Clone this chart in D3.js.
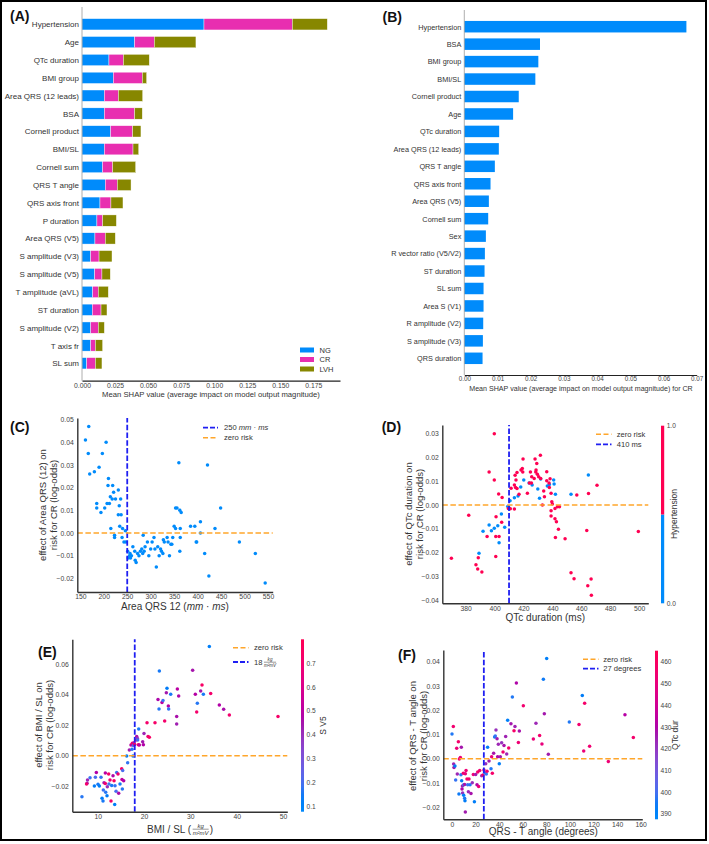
<!DOCTYPE html>
<html><head><meta charset="utf-8">
<script src="https://cdn.jsdelivr.net/npm/d3@7"></script>
<style>
body{margin:0;background:#fff;}
svg{display:block;font-family:'Liberation Sans',Arial,Helvetica,sans-serif;}
</style></head><body>
<svg id="c" width="709" height="844"></svg>
<script>
// ---------------- DATA ----------------
const catsA = ["Hypertension","Age","QTc duration","BMI group","Area QRS (12 leads)","BSA","Cornell product","BMI/SL","Cornell sum","QRS T angle","QRS axis front","P duration","Area QRS (V5)","S amplitude (V3)","S amplitude (V5)","T amplitude (aVL)","ST duration","S amplitude (V2)","T axis fr","SL sum"];
const classNames = ["NG","CR","LVH"];
const ngA  = [0.0923,0.0398,0.0204,0.0237,0.0169,0.0169,0.0217,0.0169,0.0156,0.0176,0.0136,0.0113,0.0098,0.0066,0.0096,0.0081,0.0078,0.0066,0.0066,0.0036];
const crA  = [0.0668,0.0149,0.0109,0.0219,0.0106,0.0229,0.0166,0.0217,0.0076,0.0091,0.0083,0.0043,0.0078,0.0063,0.0055,0.0042,0.0066,0.0057,0.0035,0.0065];
const lvhA = [0.0265,0.0315,0.0196,0.0033,0.0184,0.0058,0.0063,0.0043,0.0174,0.0104,0.0091,0.0104,0.0076,0.0098,0.0063,0.0076,0.0045,0.0046,0.0055,0.0050];
const ticksA = [0,0.025,0.05,0.075,0.1,0.125,0.15,0.175];

const catsB = ["Hypertension","BSA","BMI group","BMI/SL","Cornell product","Age","QTc duration","Area QRS (12 leads)","QRS T angle","QRS axis front","Area QRS (V5)","Cornell sum","Sex","R vector ratio (V5/V2)","ST duration","SL sum","Area S (V1)","R amplitude (V2)","S amplitude (V3)","QRS duration"];
const valsB = [0.0669,0.0228,0.0223,0.0214,0.0164,0.0147,0.0105,0.0104,0.0092,0.0079,0.0074,0.0072,0.0065,0.0062,0.0061,0.0058,0.0058,0.0057,0.0056,0.0055];
const ticksB = [0,0.01,0.02,0.03,0.04,0.05,0.06,0.07];

// (C) Area QRS 12 vs SHAP
const cArea = [161,168,167,170,180,190,205,197,185,185,194,202,207,210,209,219,214,218,221,225,212,231,236,233,231,237,215,223,223,234,240,246,239,243,247,251,255,257,259,252,256,262,266,267,269,272,275,278,281,283,286,288,284,293,296,300,303,307,309,312,315,318,321,323,326,327,329,335,337,340,343,345,347,350,353,353,356,360,362,365,362,363,363,385,394,397,398,406,406,415,421,424,437,449,489,523,544];
const cShap = [0.041,0.047,0.035,0.026,0.027,0.029,0.040,0.035,0.013,0.011,0.009,0.011,0.013,0.024,0.021,0.021,0.016,0.015,0.018,0.015,0.013,0.019,0.015,0.012,0.008,0.008,0.002,-0.001,-0.002,0.003,0.002,0.001,-0.002,-0.004,-0.004,-0.008,-0.010,-0.011,-0.010,-0.011,-0.009,-0.006,-0.008,-0.012,-0.013,-0.009,-0.010,-0.008,-0.007,-0.009,-0.008,-0.006,-0.001,-0.004,-0.010,-0.007,-0.004,-0.002,-0.007,-0.015,-0.006,-0.010,-0.007,-0.008,-0.009,-0.003,-0.004,-0.002,-0.004,-0.010,-0.005,-0.005,-0.002,0.003,0.002,0.011,0.011,0.031,0.010,0.009,-0.008,-0.002,0.002,0.003,0.003,-0.004,-0.004,0.005,0.000,-0.009,0.030,-0.019,0.002,0.011,-0.004,-0.009,-0.022];
const cXTicks = [150,200,250,300,350,400,450,500,550];
const cYTicks = [-0.02,-0.01,0,0.01,0.02,0.03,0.04,0.05];

// (D) QTc duration vs SHAP, split by hypertension
const dQtcHyp = [399.8,370.1,382.1,396.2,399.8,401.0,400.8,403.1,394.8,400.8,402.8,405.2,404.9,387.1,388.3,388.7,391.2,409.5,410.9,411.4,413.7,414.2,414.8,415.5,414.5,415.5,413.7,416.9,418.3,419.2,419.5,419.7,422.7,424.1,424.8,425.7,425.5,427.4,428.0,428.7,428.5,429.2,429.6,430.5,431.7,431.9,434.0,434.5,433.1,436.1,436.1,437.7,437.9,438.4,439.1,439.1,439.1,439.6,440.0,441.8,441.8,442.8,442.1,443.5,444.2,444.9,448.8,456.9,452.9,455.0,463.8,464.5,465.0,466.8,467.0,470.9,499.5];
const dShapHyp = [0.030,-0.0224,-0.0043,0.0139,0.0105,-0.0049,-0.0133,-0.0133,-0.0133,-0.0217,0.0046,0.0032,-0.0073,-0.0251,-0.0269,-0.0222,-0.0282,-0.0015,-0.0016,0.007,0.0084,0.0125,0.0105,0.0137,0.0074,0.0069,-0.0017,0.0045,0.0147,0.0154,0.0139,0.0194,0.0049,0.0093,0.0139,0.0119,0.0093,0.0111,0.0194,0.0147,0.0139,0.0175,0.0129,0.0119,0.0209,0.0112,0.0059,0.0035,0.0000,0.0140,0.0102,0.0093,0.0074,0.0110,0.0049,-0.0024,-0.0046,0.0014,0.0004,-0.0015,-0.0058,-0.0070,-0.0137,-0.0007,-0.0102,-0.0007,-0.0142,0.0042,-0.0285,-0.0310,-0.0107,-0.0340,0.0048,-0.0311,-0.0380,0.0083,-0.0112];
const dQtcNo = [389.2,392.0,396.2,397.8,399.8,402.2,404.7,403.1,407.0,409.1,409.8,410.7,413.7,416.2,418.1,420.2,423.9,426.0,429.9,431.1,431.9,436.5,437.9,440.9,441.2,442.1,452.9,464.9];
const dShapNo = [-0.0203,-0.0110,-0.0084,-0.0108,-0.0098,-0.0087,-0.0038,-0.0159,-0.0094,-0.0006,-0.0011,0.0018,0.0031,0.0038,0.0076,0.0105,0.0093,0.0084,0.0067,0.0028,0.0109,0.0080,0.0086,0.0105,0.0088,0.0045,0.0045,0.0126];
const dXTicks = [380,400,420,440,460,480,500];
const dYTicks = [-0.04,-0.03,-0.02,-0.01,0,0.01,0.02,0.03];

// (E) BMI/SL vs SHAP, coloured by S V5
const eBmiSl = [6.6,7.7,7.8,7.6,8.35,9.28,9.5,9.71,10.07,10.36,10.72,10.94,11.15,11.22,11.37,11.65,11.73,11.65,12.01,12.08,12.37,12.44,12.66,12.88,13.02,13.31,13.53,13.67,13.74,13.96,14.1,14.39,14.53,14.82,15.18,15.25,15.32,15.4,15.61,16.26,16.47,16.83,17.19,17.41,17.48,17.63,17.7,17.84,17.99,18.27,18.42,18.56,18.63,18.78,18.85,18.99,19.71,19.86,20.0,20.65,20.86,21.15,22.37,23.02,23.31,23.24,23.88,24.1,24.46,24.82,24.96,25.25,25.32,25.76,27.05,27.05,27.2,27.48,30.5,31.08,31.37,31.51,32.23,32.52,32.81,34.1,34.39,36.26,37.19,38.42,48.92];
const eShap = [-0.0269,-0.0181,-0.016,-0.0186,-0.0144,-0.0199,-0.0142,-0.0111,-0.0188,-0.0199,-0.0142,-0.028,-0.0297,-0.0225,-0.0177,-0.0114,-0.024,-0.0182,-0.0262,-0.0203,-0.012,-0.0186,-0.016,-0.0297,-0.0195,-0.0131,-0.0164,-0.0321,-0.0197,-0.0234,-0.0111,-0.012,-0.0247,-0.0186,-0.0085,-0.0157,-0.0219,-0.0098,-0.0164,-0.0002,-0.0046,0.0037,0.007,0.0042,0.0081,-0.0002,0.0066,0.0085,0.0074,0.0103,0.0125,0.0114,0.0103,0.0072,0.0175,0.007,0.0092,0.0072,0.0146,0.0216,0.0125,0.012,0.0216,0.0369,0.0555,0.0306,0.0348,0.0361,0.0227,0.0413,0.0442,0.0326,0.0306,0.0402,0.0256,0.0208,0.0437,0.0391,0.056,0.0402,0.0286,0.0343,0.0424,0.0463,0.0402,0.0715,0.0407,0.0332,0.0304,0.0267,0.0256];
const eSv5 = [0.16,0.45,0.42,0.72,0.18,0.14,0.2,0.48,0.15,0.12,0.17,0.13,0.15,0.18,0.44,0.5,0.16,0.7,0.14,0.4,0.73,0.19,0.7,0.72,0.15,0.47,0.75,0.13,0.17,0.2,0.18,0.71,0.46,0.15,0.74,0.52,0.16,0.2,0.48,0.14,0.17,0.43,0.5,0.16,0.72,0.14,0.2,0.45,0.7,0.73,0.46,0.4,0.18,0.71,0.15,0.5,0.44,0.48,0.42,0.72,0.7,0.74,0.73,0.47,0.15,0.16,0.5,0.18,0.72,0.44,0.14,0.48,0.17,0.15,0.46,0.43,0.5,0.47,0.45,0.49,0.72,0.16,0.44,0.74,0.15,0.12,0.72,0.48,0.46,0.71,0.73];
const eXTicks = [10,20,30,40,50];
const eYTicks = [-0.02,0,0.02,0.04,0.06];
const eCbTicks = [0.1,0.2,0.3,0.4,0.5,0.6,0.7];

// (F) QRS-T angle vs SHAP, coloured by QTc duration
const fAngle = [0,1.1,1.4,1.7,2.5,3.1,4,4.5,5.4,5.9,6.2,7.1,7.6,7.9,8.2,8.5,8.8,9,9.6,9.9,9.9,10.7,10.7,11,11.3,11.3,11.9,12.7,13.3,13.9,14.4,15.3,16.1,17.2,18.1,19,20.1,21.2,21.8,22.6,23.5,25.2,26.3,27.1,27.7,28.6,29.1,29.7,30.2,31.4,33.1,33.6,34.2,35.3,36.2,36.7,37.3,38.2,38.7,39.3,40.1,41,42.1,43.3,44.1,45.5,46.4,47.2,48.1,50,51.2,52.6,53.4,54.6,56.3,57.1,60.5,69,71.2,74.3,76.3,77.5,78.3,80.3,81.7,99.5,107.7,110.5,111.7,112.5,116.7,132.6,146.7,153.8];
const fShap = [0.0102,0.0133,-0.0022,-0.0036,-0.003,-0.0088,0.0043,-0.0063,0.007,-0.0146,-0.0001,0.0005,-0.0066,0.0047,-0.0091,-0.0125,-0.0113,-0.0141,-0.006,-0.0151,-0.0107,-0.0106,-0.0163,-0.0173,-0.0062,-0.022,-0.0049,-0.0084,-0.0107,-0.0136,-0.0084,-0.0107,-0.0144,-0.0099,-0.0065,-0.0177,-0.0065,-0.0107,-0.0055,-0.0115,-0.0049,-0.007,-0.0067,-0.0047,-0.0058,-0.0021,-0.0063,-0.0052,0.0047,-0.001,-0.0041,0.0008,-0.006,0.0022,0.0089,0.0093,0.0118,0.0082,0.0008,0.0059,-0.0021,0.0008,0.0066,0.0027,0.0054,0.0091,0.0019,0.0158,0.0044,0.0144,0.0254,0.0115,0.0133,0.0312,0.0067,0.0114,0.0218,0.0081,0.0146,0.0096,0.006,0.0327,0.0185,0.0413,0.0018,0.0151,0.0141,0.026,0.0032,0.0228,0.0051,-0.0012,0.0181,0.0087];
const fQtc = [396,455,425,428,393,398,452,424,456,395,458,452,397,427,394,430,425,422,455,392,398,428,396,394,450,426,453,457,399,424,455,396,428,422,452,393,426,430,456,451,454,424,458,453,397,422,398,455,394,426,396,452,457,428,395,398,422,426,430,424,393,427,421,454,428,425,424,392,456,427,396,458,425,430,453,428,455,452,424,456,450,395,427,392,426,396,455,394,452,457,454,453,432,456];
const fXTicks = [0,20,40,60,80,100,120,140,160];
const fYTicks = [-0.02,-0.01,0,0.01,0.02,0.03,0.04];
const fCbTicks = [390,400,410,420,430,440,450,460];

// ---------------- STYLE ----------------
const FONT = "'Liberation Sans', Arial, Helvetica, sans-serif";
const classColors = ["#008bfb","#e82eb0","#878700"];
const SHAP_BLUE = "#008bfb", SHAP_RED = "#ff0052";
const ORANGE = "#ffa62b", VBLUE = "#1f1ff2";
// shap red_blue colormap (LCh interpolation with darker middle)
function redBlue(t){
  t = Math.max(0, Math.min(1, t));
  const h = 266.9 + t * (380.3 - 266.9);
  const c = 70 + 20 * t;
  const l = t < 0.5 ? 54 + (40 - 54) * (t / 0.5) : 40 + (54 - 40) * ((t - 0.5) / 0.5);
  return d3.hcl(h % 360, c, l).formatHex();
}

const svg = d3.select("#c");
svg.append("rect").attr("x",1).attr("y",1).attr("width",705).attr("height",839)
  .attr("fill","#fff").attr("stroke","#000").attr("stroke-width",2);
const defs = svg.append("defs");

function styleAxis(sel, size, color){
  sel.attr("font-family", FONT).attr("font-size", size);
  sel.selectAll("text").attr("fill", color || "#444");
}
function panelLabel(x, y, s){
  svg.append("text").attr("x",x).attr("y",y).attr("dy","0.35em")
    .attr("font-size",14).attr("font-weight","bold").attr("fill","#111").text(s);
}
function yTitle(cx, cy, lines, size){
  const t = svg.append("text").attr("transform",`translate(${cx},${cy}) rotate(-90)`)
    .attr("text-anchor","middle").attr("font-size",size).attr("fill","#333");
  const lh = size * 1.12;
  lines.forEach((l,i)=>t.append("tspan").attr("x",0).attr("y",(i-(lines.length-1)/2)*lh).attr("dy","0.35em").text(l));
  return t;
}
function fracText(parent, x, y, anchor, pre, num, den, post, size){
  const g = parent.append("g").attr("fill","#333");
  const t1 = g.append("text").attr("x",0).attr("y",0).attr("dy","0.35em").attr("font-size",size).text(pre);
  const w = t1.node().getComputedTextLength();
  const fs = size*0.6;
  const nT = g.append("text").attr("font-size",fs).attr("font-style","italic").attr("text-anchor","middle").text(num);
  const dT = g.append("text").attr("font-size",fs).attr("font-style","italic").attr("text-anchor","middle").text(den);
  const fw = Math.max(nT.node().getComputedTextLength(), dT.node().getComputedTextLength());
  const fx = w + 1.5 + fw/2;
  nT.attr("x",fx).attr("y",-1.2);
  dT.attr("x",fx).attr("y",1.2 + fs*0.78);
  g.append("line").attr("x1",fx-fw/2).attr("x2",fx+fw/2).attr("y1",0.2).attr("y2",0.2).attr("stroke","#333").attr("stroke-width",0.5);
  let total = fx + fw/2 + 1;
  if (post){
    const t2 = g.append("text").attr("x",total).attr("y",0).attr("dy","0.35em").attr("font-size",size).text(post);
    total += t2.node().getComputedTextLength();
  }
  const ox = anchor === "middle" ? x - total/2 : x;
  g.attr("transform",`translate(${ox},${y})`);
  return g;
}
function legendLine(x1, x2, y, color, dash, width){
  svg.append("line").attr("x1",x1).attr("x2",x2).attr("y1",y).attr("y2",y)
    .attr("stroke",color).attr("stroke-width",width).attr("stroke-dasharray",dash);
}
function legendText(x, y, s){
  return svg.append("text").attr("x",x).attr("y",y).attr("dy","0.35em").attr("font-size",7.6).attr("fill","#333").text(s);
}

// ---------------- PANEL A ----------------
(function(){
  const g = svg.append("g");
  const x = d3.scaleLinear().domain([0,0.1952]).range([82,340]);
  const y = d3.scalePoint().domain(catsA).range([24.3,363.3]);
  const rows = catsA.map((c,i)=>({cat:c, NG:ngA[i], CR:crA[i], LVH:lvhA[i]}));
  const series = d3.stack().keys(classNames)(rows);
  const bh = 11.3;
  g.selectAll("g.s").data(series).join("g").attr("class","s").attr("fill",(d,i)=>classColors[i])
    .selectAll("rect").data(d=>d).join("rect")
    .attr("x",d=>x(d[0])).attr("width",d=>x(d[1])-x(d[0]))
    .attr("y",d=>y(d.data.cat)-bh/2).attr("height",bh)
    .attr("stroke","#fff").attr("stroke-width",0.4);
  g.append("line").attr("x1",82).attr("x2",82).attr("y1",7).attr("y2",380.7).attr("stroke","#9a9a9a").attr("stroke-width",0.8);
  const ya = g.append("g").attr("transform","translate(82,0)").call(d3.axisLeft(y).tickSize(0).tickPadding(3));
  ya.select(".domain").remove();
  styleAxis(ya, 8, "#333");
  const xa = g.append("g").attr("transform","translate(0,380.7)")
    .call(d3.axisBottom(x).tickValues(ticksA).tickFormat(d3.format(".3f")).tickSize(0).tickPadding(2).tickSizeOuter(0));
  xa.select(".domain").attr("stroke","#222").attr("stroke-width",1.2);
  styleAxis(xa, 6.8, "#444");
  g.append("text").attr("x",211).attr("y",394).attr("dy","0.35em").attr("text-anchor","middle")
    .attr("font-size",7.7).attr("fill","#333").text("Mean SHAP value (average impact on model output magnitude)");
  // legend
  const ly = d3.scalePoint().domain(classNames).range([350,369]);
  classNames.forEach((c,i)=>{
    g.append("rect").attr("x",300).attr("y",ly(c)-2.5).attr("width",14).attr("height",5).attr("fill",classColors[i]);
    g.append("text").attr("x",319.5).attr("y",ly(c)).attr("dy","0.35em").attr("font-size",7.5).attr("fill","#333").text(c);
  });
  panelLabel(10,16,"(A)");
})();

// ---------------- PANEL B ----------------
(function(){
  const g = svg.append("g");
  const x = d3.scaleLinear().domain([0,0.07]).range([464.3,696.7]);
  const y = d3.scalePoint().domain(catsB).range([26.7,358.3]);
  const bh = 11.5;
  g.selectAll("rect").data(catsB).join("rect")
    .attr("x",x(0)).attr("width",(d,i)=>x(valsB[i])-x(0))
    .attr("y",d=>y(d)-bh/2).attr("height",bh).attr("fill",SHAP_BLUE);
  g.append("line").attr("x1",464.3).attr("x2",464.3).attr("y1",10).attr("y2",375).attr("stroke","#9a9a9a").attr("stroke-width",0.8);
  const ya = g.append("g").attr("transform","translate(464.3,0)").call(d3.axisLeft(y).tickSize(0).tickPadding(3));
  ya.select(".domain").remove();
  styleAxis(ya, 7.3, "#333");
  const xa = g.append("g").attr("transform","translate(0,375)")
    .call(d3.axisBottom(x).tickValues(ticksB).tickFormat(d3.format(".2f")).tickSize(0).tickPadding(2).tickSizeOuter(0));
  xa.select(".domain").attr("stroke","#222").attr("stroke-width",1.2);
  styleAxis(xa, 6.3, "#444");
  g.append("text").attr("x",581).attr("y",388.7).attr("dy","0.35em").attr("text-anchor","middle")
    .attr("font-size",7.1).attr("fill","#333").text("Mean SHAP value (average impact on model output magnitude) for CR");
  panelLabel(382.5,17,"(B)");
})();

// ---------------- SCATTER HELPER ----------------
function scatter(o){
  const g = svg.append("g");
  const x = d3.scaleLinear().domain(o.xDom).range(o.xRange);
  const y = d3.scaleLinear().domain(o.yDom).range(o.yRange);
  o.groups.forEach(gr=>{
    g.append("g").selectAll("circle").data(gr.xs).join("circle")
      .attr("cx",d=>x(d)).attr("cy",(d,i)=>y(gr.ys[i])).attr("r",1.75)
      .attr("fill",(d,i)=>gr.color(i));
  });
  // reference lines
  g.append("line").attr("x1",x(o.vline)).attr("x2",x(o.vline)).attr("y1",o.yRange[0]).attr("y2",o.yRange[1])
    .attr("stroke",VBLUE).attr("stroke-width",1.8).attr("stroke-dasharray","5.5,2.2");
  g.append("line").attr("x1",o.xRange[0]).attr("x2",o.xRange[1]).attr("y1",y(0)).attr("y2",y(0))
    .attr("stroke",ORANGE).attr("stroke-width",1.5).attr("stroke-dasharray","5.5,2.6");
  const xa = g.append("g").attr("transform",`translate(0,${o.yRange[0]})`)
    .call(d3.axisBottom(x).tickValues(o.xTicks).tickFormat(o.xFmt).tickSize(0).tickPadding(2.5).tickSizeOuter(0));
  xa.select(".domain").attr("stroke","#333").attr("stroke-width",1.4);
  styleAxis(xa, 6.8, "#444");
  const ya = g.append("g").attr("transform",`translate(${o.xRange[0]},0)`)
    .call(d3.axisLeft(y).tickValues(o.yTicks).tickFormat(o.yFmt).tickSize(0).tickPadding(3.5).tickSizeOuter(0));
  ya.select(".domain").attr("stroke","#333").attr("stroke-width",1.4);
  styleAxis(ya, 6.8, "#444");
  return {g,x,y};
}
function colorbar(id, x0, y0, y1, w, dom, ticks, fmt, colorFn, label, labelX){
  const grad = defs.append("linearGradient").attr("id",id).attr("x1",0).attr("x2",0).attr("y1",1).attr("y2",0);
  d3.range(0,1.0001,0.05).forEach(t=>grad.append("stop").attr("offset",t).attr("stop-color",colorFn(t)));
  svg.append("rect").attr("x",x0).attr("y",y0).attr("width",w).attr("height",y1-y0).attr("fill",`url(#${id})`);
  const s = d3.scaleLinear().domain(dom).range([y1,y0]);
  const a = svg.append("g").attr("transform",`translate(${x0+w},0)`)
    .call(d3.axisRight(s).tickValues(ticks).tickFormat(fmt).tickSize(0).tickPadding(2.5));
  a.select(".domain").remove();
  styleAxis(a, 6.6, "#444");
  yTitle(labelX, (y0+y1)/2, [label], 8.5);
}

// ---------------- PANEL C ----------------
(function(){
  scatter({
    xDom:[143.6,560], xRange:[77.3,272.7], yDom:[-0.026,0.0507], yRange:[592,418],
    xTicks:cXTicks, xFmt:d3.format("d"), yTicks:cYTicks, yFmt:d3.format(".2f"), vline:250,
    groups:[{xs:cArea, ys:cShap, color:()=>SHAP_BLUE}]
  });
  yTitle(48,505,["effect of Area QRS (12) on","risk for CR (log-odds)"],9.5);
  const t = svg.append("text").attr("x",175).attr("y",606.7).attr("dy","0.35em").attr("text-anchor","middle")
    .attr("font-size",10).attr("fill","#333");
  t.append("tspan").text("Area QRS 12 (");
  t.append("tspan").attr("font-style","italic").text("mm");
  t.append("tspan").text(" · ");
  t.append("tspan").attr("font-style","italic").text("ms");
  t.append("tspan").text(")");
  legendLine(203,218,427.7,VBLUE,"5,2",1.8);
  const l1 = legendText(224,427.7,"250 ");
  l1.append("tspan").attr("font-style","italic").text("mm");
  l1.append("tspan").text(" · ");
  l1.append("tspan").attr("font-style","italic").text("ms");
  legendLine(203,218,437.7,ORANGE,"5,2.5",1.5);
  legendText(224,437.7,"zero risk");
  panelLabel(10,426.7,"(C)");
})();

// ---------------- PANEL D ----------------
(function(){
  scatter({
    xDom:[363.8,506.4], xRange:[442.3,648.3], yDom:[-0.04136,0.03366], yRange:[603.3,425],
    xTicks:dXTicks, xFmt:d3.format("d"), yTicks:dYTicks, yFmt:d3.format(".2f"), vline:410,
    groups:[{xs:dQtcNo, ys:dShapNo, color:()=>SHAP_BLUE},{xs:dQtcHyp, ys:dShapHyp, color:()=>SHAP_RED}]
  });
  yTitle(414,514,["effect of QTc duration on","risk for CR (log-odds)"],9.5);
  svg.append("text").attr("x",545.3).attr("y",617).attr("dy","0.35em").attr("text-anchor","middle")
    .attr("font-size",10).attr("fill","#333").text("QTc duration (ms)");
  legendLine(596,611.5,434.3,ORANGE,"5,2.5",1.5);
  legendText(616.7,434.3,"zero risk");
  legendLine(596,611.5,444.3,VBLUE,"5,2",1.8);
  legendText(616.7,444.3,"410 ms");
  // binary colorbar
  const cb = d3.scaleLinear().domain([0,1]).range([603.3,425.7]);
  svg.append("rect").attr("x",661).attr("y",cb(0.5)).attr("width",3.2).attr("height",cb(0)-cb(0.5)).attr("fill",SHAP_BLUE);
  svg.append("rect").attr("x",661).attr("y",cb(1)).attr("width",3.2).attr("height",cb(0.5)-cb(1)).attr("fill",SHAP_RED);
  const a = svg.append("g").attr("transform","translate(664.2,0)")
    .call(d3.axisRight(cb).tickValues([0,1]).tickFormat(d3.format(".1f")).tickSize(0).tickPadding(2.5));
  a.select(".domain").remove();
  styleAxis(a, 6.6, "#444");
  yTitle(674.5,514,["Hypertension"],8.5);
  panelLabel(381.7,426.7,"(D)");
})();

// ---------------- PANEL E ----------------
(function(){
  const cDom = [0.076,0.80];
  const cs = v => redBlue((v-cDom[0])/(cDom[1]-cDom[0]));
  scatter({
    xDom:[4.52,50.93], xRange:[72.3,287.3], yDom:[-0.03674,0.0763], yRange:[811.7,639.3],
    xTicks:eXTicks, xFmt:d3.format("d"), yTicks:eYTicks, yFmt:d3.format(".2f"), vline:18,
    groups:[{xs:eBmiSl, ys:eShap, color:i=>cs(eSv5[i])}]
  });
  yTitle(44,725,["effect of BMI / SL on","risk for CR (log-odds)"],9.5);
  fracText(svg,180,829,"middle","BMI / SL (","kg","m²mV",")",10);
  legendLine(233,248.5,647.8,ORANGE,"5,2.5",1.5);
  legendText(254,647.8,"zero risk");
  legendLine(233,248.5,662,VBLUE,"5,2",1.8);
  fracText(svg,254,662,"start","18 ","kg","m²mV","",7.6);
  colorbar("cbE",301,639.3,811.7,3,cDom,eCbTicks,d3.format(".1f"),redBlue,"S V5",323.5);
  panelLabel(38,651.7,"(E)");
})();

// ---------------- PANEL F ----------------
(function(){
  const cDom = [387.5,465.1];
  const cs = v => redBlue((v-cDom[0])/(cDom[1]-cDom[0]));
  scatter({
    xDom:[-7.38,161.4], xRange:[443.3,642.3], yDom:[-0.02498,0.04478], yRange:[819.3,650],
    xTicks:fXTicks, xFmt:d3.format("d"), yTicks:fYTicks, yFmt:d3.format(".2f"), vline:27,
    groups:[{xs:fAngle, ys:fShap, color:i=>cs(fQtc[i])}]
  });
  yTitle(418,736,["effect of QRS - T angle on","risk for CR (log-odds)"],9.5);
  svg.append("text").attr("x",543.3).attr("y",831.5).attr("dy","0.35em").attr("text-anchor","middle")
    .attr("font-size",10).attr("fill","#333").text("QRS - T angle (degrees)");
  legendLine(583,598.5,659.3,ORANGE,"5,2.5",1.5);
  legendText(603.3,659.3,"zero risk");
  legendLine(583,598.5,668.7,VBLUE,"5,2",1.8);
  legendText(603.3,668.7,"27 degrees");
  colorbar("cbF",655,650.7,819.3,3,cDom,fCbTicks,d3.format("d"),redBlue,"QTc dur",675.5);
  panelLabel(398,655,"(F)");
})();
</script>
</body></html>
